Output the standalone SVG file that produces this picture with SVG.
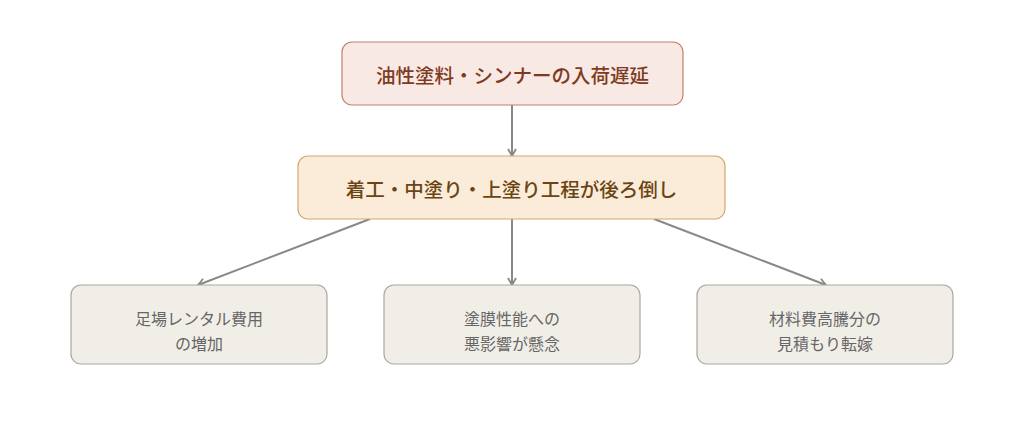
<svg xmlns="http://www.w3.org/2000/svg" width="1024" height="427" viewBox="0 0 1024 427">
<style>
text{font-family:"Noto Sans CJK JP","Noto Sans",sans-serif;text-anchor:middle;dominant-baseline:central}
.t1{font-size:19.5px;font-weight:500;fill:#7d3b1f}
.t2{font-size:19.5px;font-weight:500;fill:#6b4414}
.t3{font-size:16px;fill:#666}
.b3{fill:#f1eee8;stroke:#a9a7a1;stroke-width:1.2}
.c{stroke:#888;stroke-width:2;fill:none;marker-end:url(#ah)}
</style>
<defs>
<marker id="ah" viewBox="0 0 10 10" refX="9" refY="5" markerWidth="10" markerHeight="10" orient="auto" markerUnits="userSpaceOnUse">
<path d="M2,1 L9,5 L2,9" fill="none" stroke="#888" stroke-width="1.8"/>
</marker>
</defs>
<rect width="1024" height="427" fill="#fff"/>
<g id="connectors">
<line class="c" x1="512" y1="105" x2="512" y2="156"/>
<line class="c" x1="370" y1="219" x2="198" y2="285"/>
<line class="c" x1="512" y1="219" x2="512" y2="285"/>
<line class="c" x1="654" y1="219" x2="826" y2="285"/>
</g>
<g id="n1">
<rect x="342" y="42" width="341" height="63" rx="10" fill="#f9e9e4" stroke="#c2806a" stroke-width="1.2"/>
<text class="t1" x="512.5" y="74">油性塗料・シンナーの入荷遅延</text>
</g>
<g id="n2">
<rect x="298" y="156" width="427" height="63" rx="10" fill="#faecd8" stroke="#d2a673" stroke-width="1.2"/>
<text class="t2" x="511.5" y="188">着工・中塗り・上塗り工程が後ろ倒し</text>
</g>
<g id="n3">
<rect class="b3" x="71" y="285" width="256" height="79" rx="10"/>
<text class="t3" x="199" y="318">足場レンタル費用</text>
<text class="t3" x="199" y="343">の増加</text>
</g>
<g id="n4">
<rect class="b3" x="384" y="285" width="256" height="79" rx="10"/>
<text class="t3" x="512" y="318">塗膜性能への</text>
<text class="t3" x="512" y="343">悪影響が懸念</text>
</g>
<g id="n5">
<rect class="b3" x="697" y="285" width="256" height="79" rx="10"/>
<text class="t3" x="825" y="318">材料費高騰分の</text>
<text class="t3" x="825" y="343">見積もり転嫁</text>
</g>
</svg>
